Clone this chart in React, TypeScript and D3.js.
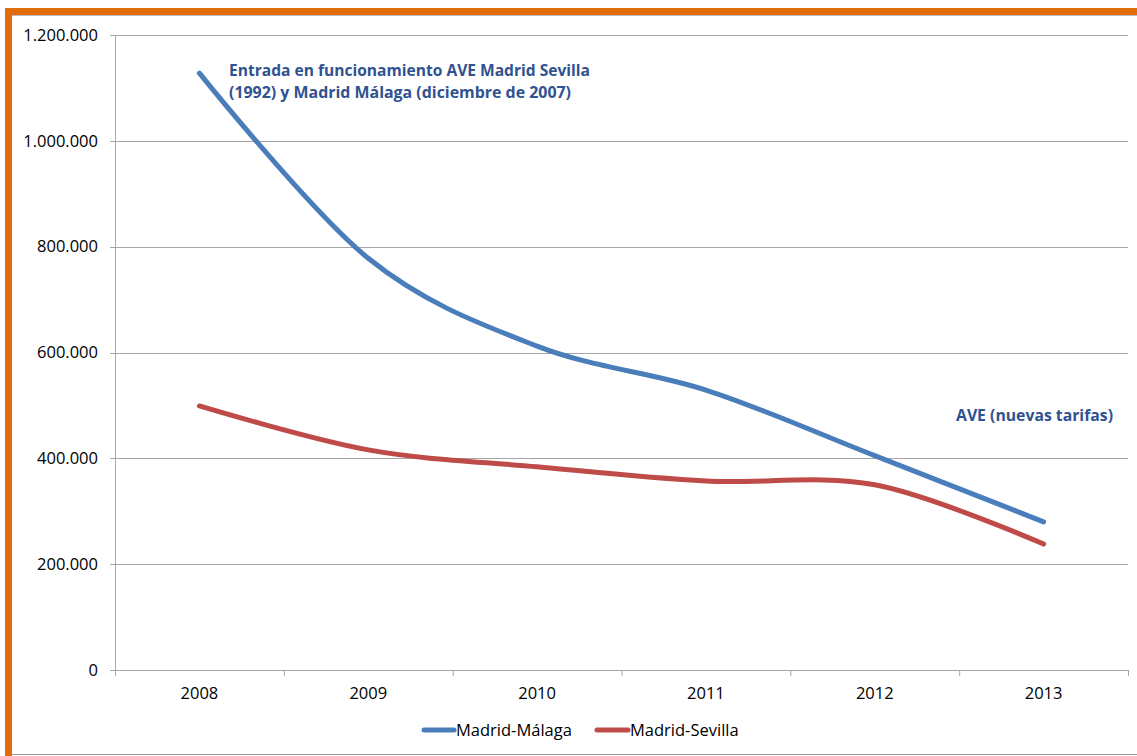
import React from "react";
import * as d3 from "d3";

const years = ["2008", "2009", "2010", "2011", "2012", "2013"];
const malaga = [1128000, 778000, 612000, 529000, 405000, 280000];
const sevilla = [499000, 416000, 384000, 357000, 350000, 238000];
const yTicks = [0, 200000, 400000, 600000, 800000, 1000000, 1200000];

const W = 1137;
const H = 756;
const M = { left: 115, right: 1128, top: 35, bottom: 670 };
const FONT = "'Open Sans', Lato, sans-serif";
const LABEL = 16.5;

export default function App() {
  const x = d3.scaleBand<string>().domain(years).range([M.left, M.right]);
  const y = d3.scaleLinear().domain([0, 1200000]).range([M.bottom, M.top]);
  const fmt = (v: number) => (v === 0 ? "0" : d3.format(",")(v).replace(/,/g, "."));
  const cx = (d: string) => (x(d) as number) + x.bandwidth() / 2;
  const line = d3
    .line<number>()
    .x((_, i) => cx(years[i]))
    .y((v) => y(v))
    .curve(d3.curveCardinal.tension(0));
  const bounds = years.map((d) => x(d) as number).concat([M.right]);

  return (
    <svg
      width={W}
      height={H}
      style={{ position: "absolute", left: 0, top: 0, background: "#fff" }}
    >
      {/* frame */}
      <rect x={5} y={8} width={W - 5} height={7} fill="#e36c0a" />
      <rect x={5} y={8} width={7} height={H - 8} fill="#e36c0a" />
      <line x1={12} x2={W} y1={15.5} y2={15.5} stroke="#bbb" strokeWidth={1} />
      <line x1={12} x2={W} y1={754.5} y2={754.5} stroke="#999" strokeWidth={1} />

      {/* gridlines */}
      {yTicks.map((t) => (
        <g key={t}>
          <line
            x1={M.left - 5}
            x2={M.right}
            y1={Math.round(y(t)) + 0.5}
            y2={Math.round(y(t)) + 0.5}
            stroke="#a6a6a6"
            strokeWidth={1}
          />
          <text
            x={M.left - 17}
            y={y(t)}
            dy="0.35em"
            textAnchor="end"
            fontFamily={FONT}
            fontSize={LABEL}
            fill="#000"
          >
            {fmt(t)}
          </text>
        </g>
      ))}
      {/* y axis */}
      <line x1={M.left + 0.5} x2={M.left + 0.5} y1={M.top} y2={M.bottom} stroke="#a6a6a6" />
      {/* x ticks */}
      {bounds.map((b, i) => (
        <line
          key={i}
          x1={b + 0.5}
          x2={b + 0.5}
          y1={M.bottom}
          y2={M.bottom + 6}
          stroke="#a6a6a6"
        />
      ))}
      {years.map((d) => (
        <text
          key={d}
          x={cx(d)}
          y={699}
          textAnchor="middle"
          fontFamily={FONT}
          fontSize={LABEL}
          fill="#000"
        >
          {d}
        </text>
      ))}

      {/* series */}
      <path d={line(sevilla) || ""} fill="none" stroke="#be4b48" strokeWidth={5} strokeLinecap="round" />
      <path d={line(malaga) || ""} fill="none" stroke="#4a7ebb" strokeWidth={5} strokeLinecap="round" />

      {/* annotations */}
      <text x={229} y={76} fontFamily={FONT} fontSize={15.5} fontWeight="bold" fill="#2f5290" textLength={361} lengthAdjust="spacingAndGlyphs">
        Entrada en funcionamiento AVE Madrid Sevilla
      </text>
      <text x={229} y={98} fontFamily={FONT} fontSize={15.5} fontWeight="bold" fill="#2f5290" textLength={342} lengthAdjust="spacingAndGlyphs">
        (1992) y Madrid Málaga (diciembre de 2007)
      </text>
      <text x={956} y={421} fontFamily={FONT} fontSize={15.5} fontWeight="bold" fill="#2f5290" textLength={157} lengthAdjust="spacingAndGlyphs">
        AVE (nuevas tarifas)
      </text>

      {/* legend */}
      <line x1={424} x2={454} y1={730} y2={730} stroke="#4a7ebb" strokeWidth={5} strokeLinecap="round" />
      <text x={456} y={730} dy="0.35em" fontFamily={FONT} fontSize={LABEL} fill="#000">
        Madrid-Málaga
      </text>
      <line x1={597} x2={628} y1={730} y2={730} stroke="#be4b48" strokeWidth={5} strokeLinecap="round" />
      <text x={630} y={730} dy="0.35em" fontFamily={FONT} fontSize={LABEL} fill="#000">
        Madrid-Sevilla
      </text>
    </svg>
  );
}
